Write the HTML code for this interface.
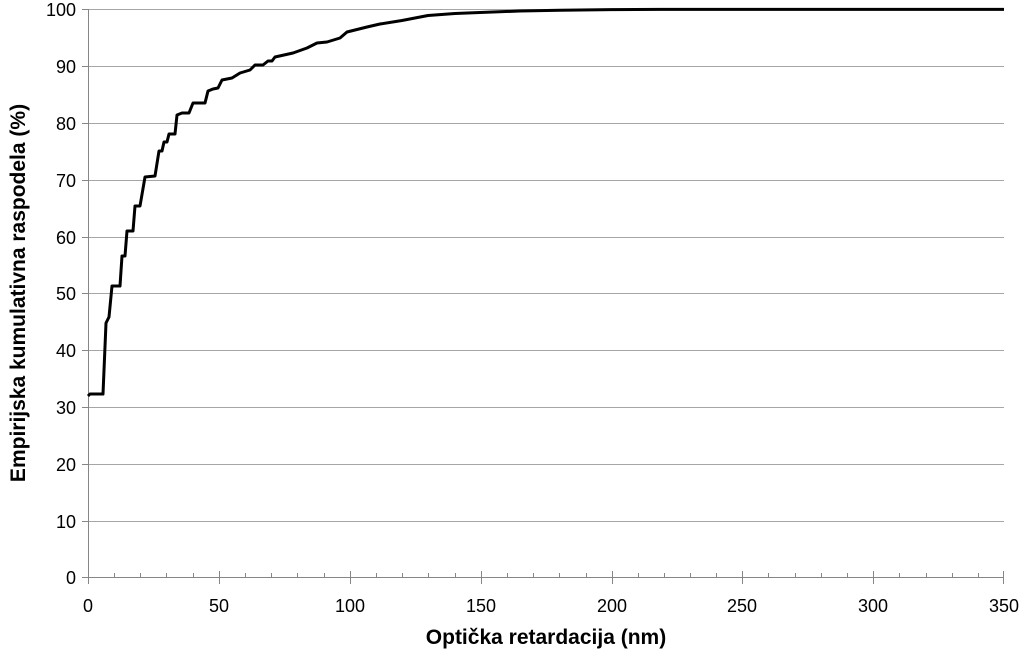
<!DOCTYPE html>
<html><head><style>body{margin:0;background:#fff}</style></head><body>
<svg width="1024" height="655" xmlns="http://www.w3.org/2000/svg" font-family="Liberation Sans, sans-serif">
<g stroke="#a6a6a6" stroke-width="1">
<line x1="88" x2="1004" y1="9.5" y2="9.5"/><line x1="88" x2="1004" y1="66.5" y2="66.5"/>
<line x1="88" x2="1004" y1="123.5" y2="123.5"/><line x1="88" x2="1004" y1="180.5" y2="180.5"/>
<line x1="88" x2="1004" y1="237.5" y2="237.5"/><line x1="88" x2="1004" y1="293.5" y2="293.5"/>
<line x1="88" x2="1004" y1="350.5" y2="350.5"/><line x1="88" x2="1004" y1="407.5" y2="407.5"/>
<line x1="88" x2="1004" y1="464.5" y2="464.5"/><line x1="88" x2="1004" y1="521.5" y2="521.5"/>
</g>
<g stroke="#868686" stroke-width="1">
<line x1="88.5" x2="88.5" y1="9" y2="584"/>
<line x1="82" x2="1004" y1="577.5" y2="577.5"/>
<line x1="82" x2="88" y1="9.5" y2="9.5"/><line x1="82" x2="88" y1="66.5" y2="66.5"/><line x1="82" x2="88" y1="123.5" y2="123.5"/><line x1="82" x2="88" y1="180.5" y2="180.5"/><line x1="82" x2="88" y1="237.5" y2="237.5"/><line x1="82" x2="88" y1="293.5" y2="293.5"/><line x1="82" x2="88" y1="350.5" y2="350.5"/><line x1="82" x2="88" y1="407.5" y2="407.5"/><line x1="82" x2="88" y1="464.5" y2="464.5"/><line x1="82" x2="88" y1="521.5" y2="521.5"/>
<line x1="219.5" x2="219.5" y1="571" y2="584"/><line x1="350.5" x2="350.5" y1="571" y2="584"/><line x1="481.5" x2="481.5" y1="571" y2="584"/><line x1="612.5" x2="612.5" y1="571" y2="584"/><line x1="742.5" x2="742.5" y1="571" y2="584"/><line x1="873.5" x2="873.5" y1="571" y2="584"/><line x1="1003.5" x2="1003.5" y1="571" y2="584"/>
</g>
<path fill="none" stroke="#000" stroke-width="3" stroke-linejoin="round" d="M88,396 L90,394 L103,394 L106,323 L109,317 L112,286 L120,286 L122,256 L125,256 L127,231 L133,231 L135,206 L140,206 L145,177 L155,176 L159,151 L162,151 L164,142 L167,142 L169,134 L175,134 L177,115 L182,113 L189,113 L193,103 L205,103 L208,91 L213,89 L218,88 L222,80 L232,78 L240,73 L250,70 L255,65 L263,65 L268,61 L272,61 L275,57 L293,53 L307,48 L317,43 L327,42 L340,38 L347,32 L367,27 L380,24 L402,20.5 L428,15.5 L455,13.5 L480,12.5 L520,11 L560,10.2 L611,9.6 L660,9.4 L1004,9.4"/>
<g font-size="18" fill="#000" text-anchor="end">
<text x="76" y="16">100</text><text x="76" y="73">90</text><text x="76" y="130">80</text><text x="76" y="187">70</text><text x="76" y="244">60</text><text x="76" y="300">50</text><text x="76" y="357">40</text><text x="76" y="414">30</text><text x="76" y="471">20</text><text x="76" y="528">10</text><text x="76" y="584">0</text>
</g>
<g font-size="18" fill="#000" text-anchor="middle">
<text x="88" y="612">0</text><text x="219" y="612">50</text><text x="350" y="612">100</text><text x="481" y="612">150</text><text x="612" y="612">200</text><text x="742" y="612">250</text><text x="873" y="612">300</text><text x="1004" y="612">350</text>
</g>
<text x="546" y="644" font-size="21" font-weight="bold" text-anchor="middle">Optička retardacija (nm)</text>
<text transform="translate(25,293) rotate(-90)" font-size="21" font-weight="bold" text-anchor="middle">Empirijska kumulativna raspodela (%)</text>
<g stroke="#868686">
<line x1="114.5" x2="114.5" y1="573" y2="577"/><line x1="140.5" x2="140.5" y1="573" y2="577"/><line x1="166.5" x2="166.5" y1="573" y2="577"/><line x1="193.5" x2="193.5" y1="573" y2="577"/>
<line x1="245.5" x2="245.5" y1="573" y2="577"/><line x1="271.5" x2="271.5" y1="573" y2="577"/><line x1="297.5" x2="297.5" y1="573" y2="577"/><line x1="324.5" x2="324.5" y1="573" y2="577"/>
<line x1="376.5" x2="376.5" y1="573" y2="577"/><line x1="402.5" x2="402.5" y1="573" y2="577"/><line x1="428.5" x2="428.5" y1="573" y2="577"/><line x1="455.5" x2="455.5" y1="573" y2="577"/>
<line x1="507.5" x2="507.5" y1="573" y2="577"/><line x1="533.5" x2="533.5" y1="573" y2="577"/><line x1="559.5" x2="559.5" y1="573" y2="577"/><line x1="586.5" x2="586.5" y1="573" y2="577"/>
<line x1="638.5" x2="638.5" y1="573" y2="577"/><line x1="664.5" x2="664.5" y1="573" y2="577"/><line x1="690.5" x2="690.5" y1="573" y2="577"/><line x1="716.5" x2="716.5" y1="573" y2="577"/>
<line x1="768.5" x2="768.5" y1="573" y2="577"/><line x1="795.5" x2="795.5" y1="573" y2="577"/><line x1="821.5" x2="821.5" y1="573" y2="577"/><line x1="847.5" x2="847.5" y1="573" y2="577"/>
<line x1="899.5" x2="899.5" y1="573" y2="577"/><line x1="926.5" x2="926.5" y1="573" y2="577"/><line x1="952.5" x2="952.5" y1="573" y2="577"/><line x1="978.5" x2="978.5" y1="573" y2="577"/>
</g>
</svg>
</body></html>
